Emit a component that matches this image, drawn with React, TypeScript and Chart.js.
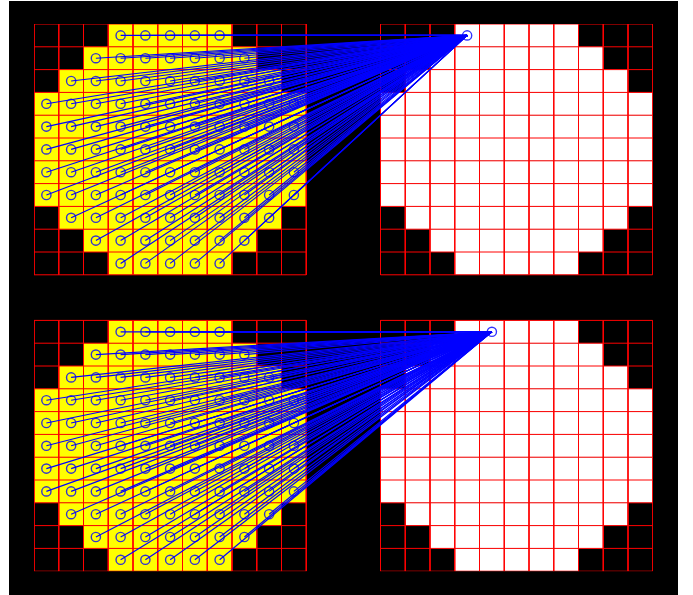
import React, { useEffect, useRef } from "react";
import { Chart, registerables } from "chart.js";

Chart.register(...registerables);

const rowFirstCol = [3, 2, 1, 0, 0, 0, 0, 0, 1, 2, 3];
const rowLastCol = [7, 8, 9, 10, 10, 10, 10, 10, 9, 8, 7];
const gridSize = 11;
const leftColStart = 0;
const rightColStart = 14;
const panelRowStarts = [0, 13];
const targets = [
  { x: 17.5, y: 0.5 },
  { x: 18.5, y: 13.5 },
];
const RED = "#ff0000";
const BLUE = "#0000ff";
const YELLOW = "#ffff00";
const WHITE = "#ffffff";

type P = { x: number; y: number };

function cellFill(colStart: number, rowStart: number, row: number, color: string) {
  const x0 = colStart + rowFirstCol[row];
  const x1 = colStart + rowLastCol[row] + 1;
  const y0 = rowStart + row;
  const y1 = y0 + 1;
  return {
    type: "line" as const,
    data: [
      { x: x0, y: y0 },
      { x: x1, y: y0 },
      { x: x1, y: y1 },
      { x: x0, y: y1 },
      { x: x0, y: y0 },
    ],
    backgroundColor: color,
    borderColor: color,
    borderWidth: 0,
    fill: "shape",
    pointRadius: 0,
    tension: 0,
  };
}

function segment(a: P, b: P, color: string, width: number) {
  return {
    type: "line" as const,
    data: [a, b],
    borderColor: color,
    borderWidth: width,
    fill: false,
    pointRadius: 0,
    tension: 0,
  };
}

function buildDatasets() {
  const circles: any[] = [];
  const rays: any[] = [];
  const gridLines: any[] = [];
  const fills: any[] = [];

  panelRowStarts.forEach((rowStart, p) => {
    const target = targets[p];
    const centers: P[] = [];
    for (let r = 0; r < gridSize; r++) {
      for (let c = rowFirstCol[r]; c <= rowLastCol[r]; c++) {
        centers.push({ x: leftColStart + c + 0.5, y: rowStart + r + 0.5 });
      }
      fills.push(cellFill(leftColStart, rowStart, r, YELLOW));
      fills.push(cellFill(rightColStart, rowStart, r, WHITE));
    }
    centers.forEach((pt) => rays.push(segment(pt, target, BLUE, 1.15)));
    circles.push({
      type: "scatter" as const,
      data: [...centers, target],
      showLine: false,
      pointStyle: "circle",
      pointRadius: 4.6,
      pointBorderWidth: 1.4,
      pointBorderColor: "rgba(0,0,255,0.8)",
      pointBackgroundColor: "rgba(0,0,0,0)",
    });
    [leftColStart, rightColStart].forEach((colStart) => {
      for (let i = 0; i <= gridSize; i++) {
        gridLines.push(
          segment({ x: colStart + i, y: rowStart }, { x: colStart + i, y: rowStart + gridSize }, RED, 1)
        );
        gridLines.push(
          segment({ x: colStart, y: rowStart + i }, { x: colStart + gridSize, y: rowStart + i }, RED, 1)
        );
      }
    });
  });
  // Earlier datasets are painted last, so the marks lie over the grid and the fills.
  return [...circles, ...rays, ...gridLines, ...fills];
}

export default function App() {
  const ref = useRef<HTMLCanvasElement>(null);
  useEffect(() => {
    if (!ref.current) return;
    const chart = new Chart(ref.current, {
      type: "line",
      data: { datasets: buildDatasets() },
      options: {
        animation: false,
        responsive: false,
        devicePixelRatio: 1,
        events: [],
        layout: { padding: { left: 25, right: 25.25, top: 23, bottom: 23.8 } },
        plugins: { legend: { display: false }, tooltip: { enabled: false }, title: { display: false } },
        scales: {
          x: { type: "linear", min: 0, max: 25, display: false },
          y: { type: "linear", min: 0, max: 24, reverse: true, display: false },
        },
      } as any,
    });
    return () => chart.destroy();
  }, []);
  return (
    <canvas
      ref={ref}
      width={669}
      height={594}
      style={{ position: "absolute", left: 9, top: 1, width: 669, height: 594, background: "#000", display: "block" }}
    />
  );
}
